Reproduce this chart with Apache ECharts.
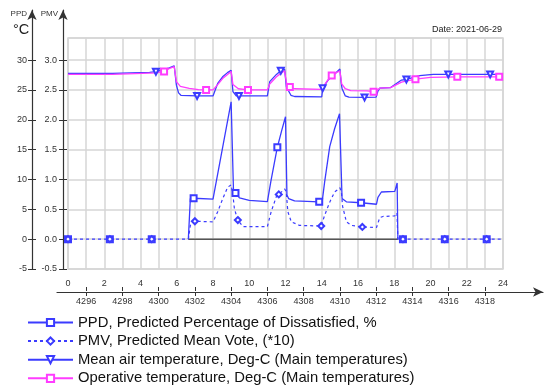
<!DOCTYPE html>
<html><head><meta charset="utf-8">
<script src="https://cdn.jsdelivr.net/npm/echarts@6/dist/echarts.min.js"></script>
<style>html,body{margin:0;padding:0;background:#fff}#c{width:547px;height:387px}</style>
</head><body><div id="c"></div>
<script>
// ---- data (hour of day, value) ----
const hourOffset = 4295;              // hour-of-year label = hour + offset
const ppdTicks = [-5,0,5,10,15,20,25,30];
const pmvTicks = [-0.5,0,0.5,1,1.5,2,2.5,3];
const hourLabels = [0,2,4,6,8,10,12,14,16,18,20,22,24];
const yearHourTicks = [1,3,5,7,9,11,13,15,17,19,21,23];

const ppd = [
 [0,0],[1,null],[2.31,0],[3.5,null],[4.62,0],[5.5,null],
 [6.64,0],[6.75,6.8],[6.93,6.85],[8.0,6.7],[9.0,23.0],[9.13,8.2],[9.24,7.75],[9.46,6.9],[10.0,6.5],[11.0,6.3],
 [11.2,9.8],[11.55,15.4],[11.8,18.3],[12.0,20.5],[12.08,7.4],[12.17,6.8],[12.5,6.4],[13.86,6.25],[14.02,6.2],
 [14.16,9.6],[14.44,15.5],[14.71,18.5],[14.98,21.0],[15.12,6.8],[15.36,6.25],[16.17,6.1],[17.02,5.85],
 [17.1,7.0],[17.29,7.9],[18.03,8.0],[18.16,9.4],[18.2,0],
 [18.3,null],[18.48,0],[19.6,null],[20.79,0],[22,null],[23.1,0]
];
const ppdMarks = [0,2.31,4.62,6.93,9.24,11.55,13.86,16.17,18.48,20.79,23.1];

const pmv = [
 [0,0],[2.31,0],[4.62,0],[6.64,0],[6.75,0.23],[6.88,0.30],[7.0,0.30],[8.0,0.29],
 [8.26,0.46],[8.54,0.68],[8.81,0.87],[9.0,0.91],[9.1,0.74],[9.18,0.51],[9.37,0.32],[9.65,0.21],[11.0,0.21],
 [11.21,0.46],[11.49,0.71],[11.63,0.75],[11.95,0.84],[12.04,0.80],[12.13,0.46],[12.32,0.29],[12.78,0.23],[13.97,0.22],
 [14.16,0.40],[14.44,0.62],[14.71,0.79],[15.0,0.86],[15.08,0.80],[15.15,0.55],[15.36,0.29],[15.63,0.23],[16.24,0.205],[17.02,0.195],
 [17.2,0.36],[17.38,0.38],[18.03,0.39],[18.15,0.44],[18.2,0],[18.48,0],[20.79,0],[23.1,0],[24,0]
];
const pmvMarks = [0,2.31,4.62,7.0,9.37,11.63,13.97,16.24,18.48,20.79,23.1];

const airTemp = [
 [0,27.77],[2.45,27.77],[2.5,27.9],[4.5,27.95],[4.85,28.05],[5.2,28.3],[5.59,28.7],[5.86,29.05],[5.95,29.05],[5.98,25.8],[6.1,24.5],[6.23,24.1],[7.12,24.0],[8.0,24.0],
 [8.26,26.1],[8.53,27.2],[8.8,27.9],[9.0,28.3],[9.1,24.7],[9.28,24.0],[9.43,24.0],[11.0,24.0],
 [11.13,26.4],[11.5,27.6],[11.74,28.2],[11.95,28.5],[12.05,25.5],[12.3,24.1],[12.5,23.9],[14.0,23.85],
 [14.05,25.3],[14.35,26.65],[14.76,27.8],[15.0,28.5],[15.08,26.0],[15.12,25.25],[15.3,24.0],[15.5,23.8],[16.36,23.75],[17.0,23.8],
 [17.1,24.8],[17.2,25.3],[17.8,25.4],[18.4,26.65],[18.67,26.75],[19.4,27.4],[20.15,27.6],[20.98,27.6],[23.29,27.6],[24,27.6]
];
const airMarks = [4.85,7.12,9.43,11.74,14.05,16.36,18.67,20.98,23.29];

const opTemp = [
 [0,27.6],[2.45,27.6],[2.5,27.75],[4.9,27.85],[5.05,28.0],[5.3,28.1],[5.6,28.6],[5.86,28.9],[5.95,28.9],[5.98,26.4],[6.2,25.6],[6.69,25.25],[7.2,25.05],[7.62,25.0],[8.0,25.0],
 [8.26,25.9],[8.53,26.9],[8.8,27.6],[9.0,28.1],[9.1,25.9],[9.4,25.2],[9.93,25.0],[11.0,25.0],
 [11.13,26.0],[11.5,27.2],[11.8,27.9],[11.95,28.2],[12.05,26.2],[12.24,25.5],[12.5,25.2],[14.0,25.1],
 [14.1,25.6],[14.3,26.5],[14.55,27.4],[14.8,27.9],[15.0,28.2],[15.1,26.0],[15.3,25.2],[15.6,24.9],[16.5,24.85],[16.86,24.7],[17.0,24.8],
 [17.2,25.3],[17.8,25.4],[18.4,26.3],[19.17,26.8],[20.0,27.1],[21.48,27.2],[23.79,27.2],[24,27.2]
];
const opMarks = [5.3,7.62,9.93,12.24,14.55,16.86,19.17,21.48,23.79];

const zeroLine = [[6.64,0],[18.2,0]];

const names = [
 'PPD, Predicted Percentage of Dissatisfied, %',
 'PMV, Predicted Mean Vote, (*10)',
 'Mean air temperature, Deg-C (Main temperatures)',
 'Operative temperature, Deg-C (Main temperatures)'
];
const dateText = 'Date: 2021-06-29';

// ---- build ----
function build(arr, marks){
  return arr.map(p => {
    const v = p[1] === null ? '-' : p[1];
    const m = marks.some(h => Math.abs(h - p[0]) < 1e-6);
    return m ? {value:[p[0], v]} : {value:[p[0], v], symbol:'none'};
  });
}
const BLUE = '#3b3bff', MAG = '#ff3cff', AX = '#333', GRID = '#d6d6d6';
const FF = '"Liberation Sans", Arial, sans-serif';
const lbl = {fontSize:9, color:'#333', fontFamily:FF};

const option = {
  animation:false,
  backgroundColor:'#fff',
  textStyle:{fontFamily:FF},
  title:[
    {text:'°C', left:8, top:17, textStyle:{fontSize:14.5, fontWeight:'normal', color:'#222', fontFamily:FF}},
    {text:dateText, right:40, top:20, textStyle:{fontSize:9, fontWeight:'normal', color:'#222', fontFamily:FF}}
  ],
  legend:{
    data:names, orient:'vertical', left:22, top:310, height:120, itemWidth:45, itemHeight:9, itemGap:3.6,
    textStyle:{fontSize:14.8, color:'#111', fontFamily:FF}
  },
  grid:[
    {left:68, right:44, top:38, bottom:118, show:true, borderColor:GRID, borderWidth:1.5},
    {left:63, width:1, top:10, bottom:118},
    {left:57, right:4, top:291, height:1}
  ],
  xAxis:[
    {gridIndex:0, type:'value', min:0, max:24, interval:1, axisLine:{show:false}, axisTick:{show:false}, axisLabel:{show:false},
     splitLine:{show:true, lineStyle:{color:GRID, width:1.5}}},
    {gridIndex:1, type:'value', min:0, max:1, show:false},
    {gridIndex:2, type:'value', position:'bottom', min:-0.607, max:26.207,
     axisLine:{show:true, onZero:false, symbol:['none','arrow'], symbolSize:[7,10], lineStyle:{color:AX, width:1.2}},
     axisTick:{show:true, customValues:yearHourTicks, length:4, lineStyle:{color:AX}},
     axisLabel:Object.assign({customValues:yearHourTicks, margin:5, formatter:v => String(v + hourOffset)}, lbl),
     splitLine:{show:false}},
    {gridIndex:2, type:'value', position:'top', min:-0.607, max:26.207,
     axisLine:{show:false, onZero:false},
     axisTick:{show:true, customValues:yearHourTicks, length:4, lineStyle:{color:AX}},
     axisLabel:Object.assign({customValues:hourLabels, margin:3, formatter:v => String(v)}, lbl),
     splitLine:{show:false}}
  ],
  yAxis:[
    {gridIndex:0, type:'value', min:-5, max:33.7, interval:5, axisLine:{show:false}, axisTick:{show:false}, axisLabel:{show:false},
     splitLine:{show:true, lineStyle:{color:GRID, width:1.5}}},
    {gridIndex:0, type:'value', min:-0.5, max:3.37, show:false},
    {gridIndex:1, type:'value', position:'left', offset:0, min:-0.5, max:3.839,
     name:'PMV', nameLocation:'end', nameGap:-4, nameTextStyle:{fontSize:8, color:'#333', align:'right', verticalAlign:'middle', padding:[0,5,0,0]},
     axisLine:{show:true, onZero:false, symbol:['none','arrow'], symbolSize:[7,10], lineStyle:{color:AX, width:1.2}},
     axisTick:{show:true, customValues:pmvTicks, length:4, lineStyle:{color:AX}},
     axisLabel:Object.assign({customValues:pmvTicks, margin:6, formatter:v => v.toFixed(1)}, lbl),
     splitLine:{show:false}},
    {gridIndex:1, type:'value', position:'left', offset:31, min:-5, max:38.39,
     name:'PPD', nameLocation:'end', nameGap:-4, nameTextStyle:{fontSize:8, color:'#333', align:'right', verticalAlign:'middle', padding:[0,5,0,0]},
     axisLine:{show:true, onZero:false, symbol:['none','arrow'], symbolSize:[7,10], lineStyle:{color:AX, width:1.2}},
     axisTick:{show:true, customValues:ppdTicks, length:4, lineStyle:{color:AX}},
     axisLabel:Object.assign({customValues:ppdTicks, margin:5, formatter:v => String(v)}, lbl),
     splitLine:{show:false}},
    {gridIndex:1, type:'value', position:'left', offset:0, min:-0.5, max:3.839,
     axisLine:{show:false, onZero:false}, axisLabel:{show:false}, splitLine:{show:false},
     axisTick:{show:true, inside:true, customValues:pmvTicks, length:4, lineStyle:{color:AX}}},
    {gridIndex:1, type:'value', position:'left', offset:31, min:-5, max:38.39,
     axisLine:{show:false, onZero:false}, axisLabel:{show:false}, splitLine:{show:false},
     axisTick:{show:true, inside:true, customValues:ppdTicks, length:4, lineStyle:{color:AX}}},
    {gridIndex:2, type:'value', min:0, max:1, show:false}
  ],
  series:[
    {name:'zero', type:'line', xAxisIndex:0, yAxisIndex:0, data:zeroLine, symbol:'none',
     lineStyle:{color:'#555', width:1.5}, silent:true},
    {name:names[0], type:'line', xAxisIndex:0, yAxisIndex:0, data:build(ppd, ppdMarks),
     symbol:'emptyRect', symbolSize:6, showAllSymbol:true, connectNulls:false,
     itemStyle:{color:BLUE, borderWidth:1.2}, lineStyle:{color:BLUE, width:1.3}},
    {name:names[1], type:'line', xAxisIndex:0, yAxisIndex:1, data:build(pmv, pmvMarks),
     symbol:'emptyDiamond', symbolSize:6, showAllSymbol:true,
     itemStyle:{color:BLUE, borderWidth:1}, lineStyle:{color:BLUE, width:1.2, type:[3,3]}},
    {name:names[2], type:'line', xAxisIndex:0, yAxisIndex:0, data:build(airTemp, airMarks),
     symbol:'emptyTriangle', symbolRotate:180, symbolSize:6, showAllSymbol:true,
     itemStyle:{color:BLUE, borderWidth:1.2}, lineStyle:{color:BLUE, width:1.3}},
    {name:names[3], type:'line', xAxisIndex:0, yAxisIndex:0, data:build(opTemp, opMarks),
     symbol:'emptyRect', symbolSize:6, showAllSymbol:true,
     itemStyle:{color:MAG, borderWidth:1.2}, lineStyle:{color:MAG, width:1.3}}
  ]
};
const chart = echarts.init(document.getElementById('c'), null, {renderer:'canvas'});
chart.setOption(option);
</script>
</body></html>
